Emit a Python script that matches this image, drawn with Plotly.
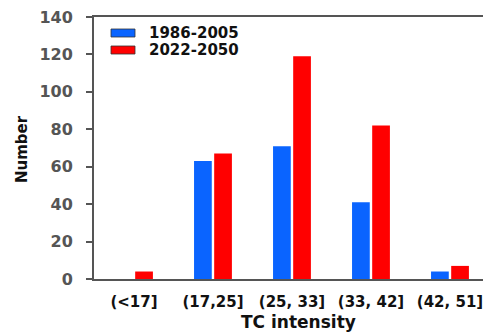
import plotly.graph_objects as go

categories = ["(<17]", "(17,25]", "(25, 33]", "(33, 42]", "(42, 51]"]
series_names = ["1986-2005", "2022-2050"]
values_1986_2005 = [0, 63, 71, 41, 4]
values_2022_2050 = [4, 67, 119, 82, 7]
y_ticks = [0, 20, 40, 60, 80, 100, 120, 140]
colors = ["#0a64ff", "#ff0000"]

FONT = "DejaVu Sans"
W, H = 483, 332
L, R, T, B = 94, 0, 17, 53
pw, ph = W - L - R, H - T - B

def px(x):
    return (x - L) / pw

def py(y):
    return (H - B - y) / ph

fig = go.Figure()
fig.add_trace(go.Bar(x=categories, y=values_1986_2005, name=series_names[0],
                     marker=dict(color=colors[0], line=dict(width=0))))
fig.add_trace(go.Bar(x=categories, y=values_2022_2050, name=series_names[1],
                     marker=dict(color=colors[1], line=dict(width=0))))

shapes = []
annotations = []
for i, (name, c) in enumerate(zip(series_names, colors)):
    y0 = 29 + 17 * i
    shapes.append(dict(type="rect", xref="paper", yref="paper",
                       x0=px(111), x1=px(135), y0=py(y0 + 8), y1=py(y0),
                       fillcolor=c, line=dict(color="#333", width=0.8)))
    annotations.append(dict(xref="paper", yref="paper", x=px(147), y=py(y0 + 4),
                            xanchor="left", yanchor="middle", showarrow=False,
                            text=name,
                            font=dict(size=15, family=FONT, color="#111", weight="bold")))

annotations.append(dict(xref="paper", yref="paper", x=px(298), y=py(322),
                        xanchor="center", yanchor="middle", showarrow=False,
                        text="TC intensity",
                        font=dict(size=17, family=FONT, color="#111", weight="bold")))
annotations.append(dict(xref="paper", yref="paper", x=px(22), y=py(149),
                        xanchor="center", yanchor="middle", showarrow=False,
                        text="Number", textangle=-90,
                        font=dict(size=15, family=FONT, color="#111", weight="bold")))

fig.update_layout(
    width=W, height=H,
    margin=dict(l=L, r=R, t=T, b=B),
    paper_bgcolor="white", plot_bgcolor="white",
    barmode="group", bargap=0.49, bargroupgap=0.12,
    font=dict(family=FONT, color="#222"),
    showlegend=False,
    shapes=shapes, annotations=annotations,
    xaxis=dict(
        type="category", range=[-0.506, 4.418], automargin=False,
        showline=True, linecolor="#555", linewidth=2, mirror=True,
        ticks="", showgrid=False, zeroline=False, ticklabelstandoff=8,
        tickfont=dict(size=15, family=FONT, color="#111", weight="bold"),
    ),
    yaxis=dict(
        range=[0, 140], tickvals=y_ticks, automargin=False,
        showline=True, linecolor="#555", linewidth=2,
        ticks="outside", ticklen=6, tickwidth=2, tickcolor="#555",
        showgrid=False, zeroline=False, ticklabelstandoff=10,
        tickfont=dict(size=16, family=FONT, color="#555", weight="bold"),
    ),
)

fig.write_html("out.html", config={"displayModeBar": False},
               post_script="document.body.style.margin='0';document.body.style.overflow='hidden';")
